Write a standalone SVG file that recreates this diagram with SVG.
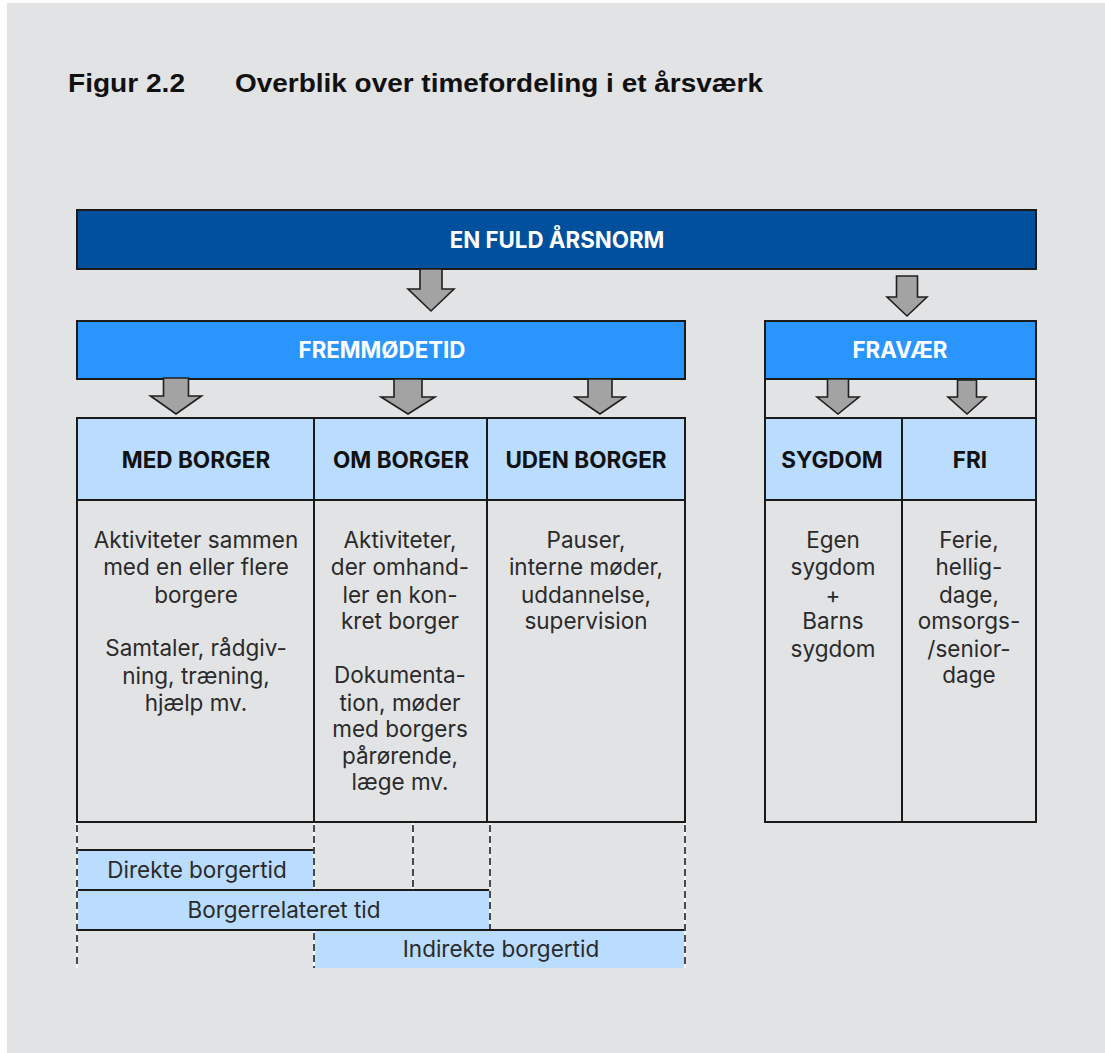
<svg xmlns="http://www.w3.org/2000/svg" width="1105" height="1053" viewBox="0 0 1105 1053">
  <style>
    .title { font-family: "Liberation Sans", Arial, sans-serif; font-weight: 700; font-size: 26px; fill: #111; }
    .bar { stroke: #1a1a1a; stroke-width: 2; }
    .dark { fill: #00509d; }
    .mid { fill: #2b95fe; }
    .light { fill: #b9dcff; }
    .body { fill: #e2e3e5; }
    .barText { font-family: Inter, "Liberation Sans", sans-serif; font-weight: 700; font-size: 22.3px; fill: #ffffff; text-anchor: middle; }
    .head { font-family: Inter, "Liberation Sans", sans-serif; font-weight: 700; font-size: 22.5px; fill: #111; text-anchor: middle; }
    .txt { font-family: Inter, "Liberation Sans", sans-serif; font-weight: 400; font-size: 22.5px; fill: #2a2a2a; text-anchor: middle; }
    .arrow { fill: #a3a3a3; stroke: #1f1f1f; stroke-width: 1.6; stroke-linejoin: miter; }
    .gap { stroke: #ffffff; stroke-width: 1.6; }
    .dash { stroke: #1f1f1f; stroke-width: 1.6; stroke-dasharray: 7 4; }
    .rule { stroke: #1a1a1a; stroke-width: 2; }
  </style>

  <!-- page background -->
  <rect x="0" y="0" width="1105" height="1053" fill="#ffffff"/>
  <rect x="7" y="3" width="1098" height="1050" fill="#e2e3e5"/>

  <!-- heading -->
  <g id="title">
    <text class="title" x="68" y="92" textLength="117" lengthAdjust="spacingAndGlyphs">Figur 2.2</text>
    <text class="title" x="235" y="92" textLength="528" lengthAdjust="spacingAndGlyphs">Overblik over timefordeling i et årsværk</text>
  </g>

  <!-- top level -->
  <g id="node-aarsnorm">
    <rect class="bar dark" x="77" y="210" width="959" height="59"/>
    <text class="barText" x="557" y="248">EN FULD ÅRSNORM</text>
  </g>

  <g id="node-fremmoedetid">
    <rect class="bar mid" x="77" y="321" width="608" height="58"/>
    <text class="barText" x="382" y="358">FREMMØDETID</text>
  </g>

  <g id="node-fravaer">
    <rect class="bar body" x="765" y="321" width="271" height="501"/>
    <rect class="bar mid" x="765" y="321" width="271" height="58"/>
    <text class="barText" x="900" y="358">FRAVÆR</text>
  </g>

  <!-- fremmødetid columns -->
  <g id="node-med-borger">
    <rect class="bar body" x="77" y="418" width="237" height="404"/>
    <rect class="bar light" x="77" y="418" width="237" height="82"/>
    <text class="head" x="196" y="468">MED BORGER</text>
    <text class="txt" x="196" y="548">Aktiviteter sammen</text>
    <text class="txt" x="196" y="575">med en eller flere</text>
    <text class="txt" x="196" y="603">borgere</text>
    <text class="txt" x="196" y="656">Samtaler, rådgiv-</text>
    <text class="txt" x="196" y="684">ning, træning,</text>
    <text class="txt" x="196" y="711">hjælp mv.</text>
  </g>

  <g id="node-om-borger">
    <rect class="bar body" x="314" y="418" width="173" height="404"/>
    <rect class="bar light" x="314" y="418" width="173" height="82"/>
    <text class="head" x="401" y="468">OM BORGER</text>
    <text class="txt" x="400" y="548">Aktiviteter,</text>
    <text class="txt" x="400" y="575">der omhand-</text>
    <text class="txt" x="400" y="603">ler en kon-</text>
    <text class="txt" x="400" y="629">kret borger</text>
    <text class="txt" x="400" y="683">Dokumenta-</text>
    <text class="txt" x="400" y="711">tion, møder</text>
    <text class="txt" x="400" y="737">med borgers</text>
    <text class="txt" x="400" y="764">pårørende,</text>
    <text class="txt" x="400" y="790">læge mv.</text>
  </g>

  <g id="node-uden-borger">
    <rect class="bar body" x="487" y="418" width="198" height="404"/>
    <rect class="bar light" x="487" y="418" width="198" height="82"/>
    <text class="head" x="586" y="468">UDEN BORGER</text>
    <text class="txt" x="586" y="548">Pauser,</text>
    <text class="txt" x="586" y="575">interne møder,</text>
    <text class="txt" x="586" y="603">uddannelse,</text>
    <text class="txt" x="586" y="629">supervision</text>
  </g>

  <!-- fravær columns -->
  <g id="node-sygdom">
    <rect class="bar body" x="765" y="418" width="137" height="404"/>
    <rect class="bar light" x="765" y="418" width="137" height="82"/>
    <text class="head" x="832" y="468">SYGDOM</text>
    <text class="txt" x="833" y="548">Egen</text>
    <text class="txt" x="833" y="575">sygdom</text>
    <text class="txt" x="833" y="603">+</text>
    <text class="txt" x="833" y="629">Barns</text>
    <text class="txt" x="833" y="657">sygdom</text>
  </g>

  <g id="node-fri">
    <rect class="bar body" x="902" y="418" width="134" height="404"/>
    <rect class="bar light" x="902" y="418" width="134" height="82"/>
    <text class="head" x="970" y="468">FRI</text>
    <text class="txt" x="969" y="548">Ferie,</text>
    <text class="txt" x="969" y="575">hellig-</text>
    <text class="txt" x="969" y="603">dage,</text>
    <text class="txt" x="969" y="629">omsorgs-</text>
    <text class="txt" x="969" y="657">/senior-</text>
    <text class="txt" x="969" y="683">dage</text>
  </g>

  <!-- time categories -->
  <g id="node-direkte">
    <rect class="light" x="77" y="850" width="237" height="40"/>
    <line class="rule" x1="77" y1="850" x2="314" y2="850"/>
    <text class="txt" x="197" y="878">Direkte borgertid</text>
  </g>

  <g id="node-borgerrelateret">
    <rect class="light" x="77" y="890" width="413" height="40"/>
    <line class="rule" x1="77" y1="890" x2="490" y2="890"/>
    <text class="txt" x="284" y="918">Borgerrelateret tid</text>
  </g>

  <g id="node-indirekte">
    <rect class="light" x="314" y="930" width="371" height="38"/>
    <line class="rule" x1="77" y1="930" x2="685" y2="930"/>
    <text class="txt" x="501" y="957">Indirekte borgertid</text>
  </g>

  <!-- connectors: block arrows and dashed guides -->
  <g id="connectors">
    <polygon class="arrow" points="420,269 442,269 442,289 454,289 431,311 408,289 420,289"/>
    <polygon class="arrow" points="896.5,276 917.5,276 917.5,297 927,297 907,316 887,297 896.5,297"/>
    <polygon class="arrow" points="163.5,378 188.5,378 188.5,396 201.5,396 176,414 150.5,396 163.5,396"/>
    <polygon class="arrow" points="394,379 422,379 422,397 435,397 408,414 381,397 394,397"/>
    <polygon class="arrow" points="588,379 612,379 612,397 625,397 600,414 575,397 588,397"/>
    <polygon class="arrow" points="827.5,379 848.5,379 848.5,397 859,397 838,414 817,397 827.5,397"/>
    <polygon class="arrow" points="957.5,380 976.5,380 976.5,397 986,397 967,414 948,397 957.5,397"/>

    <line class="gap" x1="77" y1="823" x2="77" y2="968"/>
    <line class="gap" x1="314" y1="823" x2="314" y2="889"/>
    <line class="gap" x1="314" y1="931" x2="314" y2="968"/>
    <line class="gap" x1="413" y1="823" x2="413" y2="889"/>
    <line class="gap" x1="490" y1="823" x2="490" y2="929"/>
    <line class="gap" x1="685" y1="823" x2="685" y2="968"/>

    <line class="dash" x1="77" y1="825" x2="77" y2="968"/>
    <line class="dash" x1="314" y1="825" x2="314" y2="889"/>
    <line class="dash" x1="314" y1="933" x2="314" y2="968"/>
    <line class="dash" x1="413" y1="825" x2="413" y2="889"/>
    <line class="dash" x1="490" y1="825" x2="490" y2="929"/>
    <line class="dash" x1="685" y1="825" x2="685" y2="968"/>
  </g>
</svg>
